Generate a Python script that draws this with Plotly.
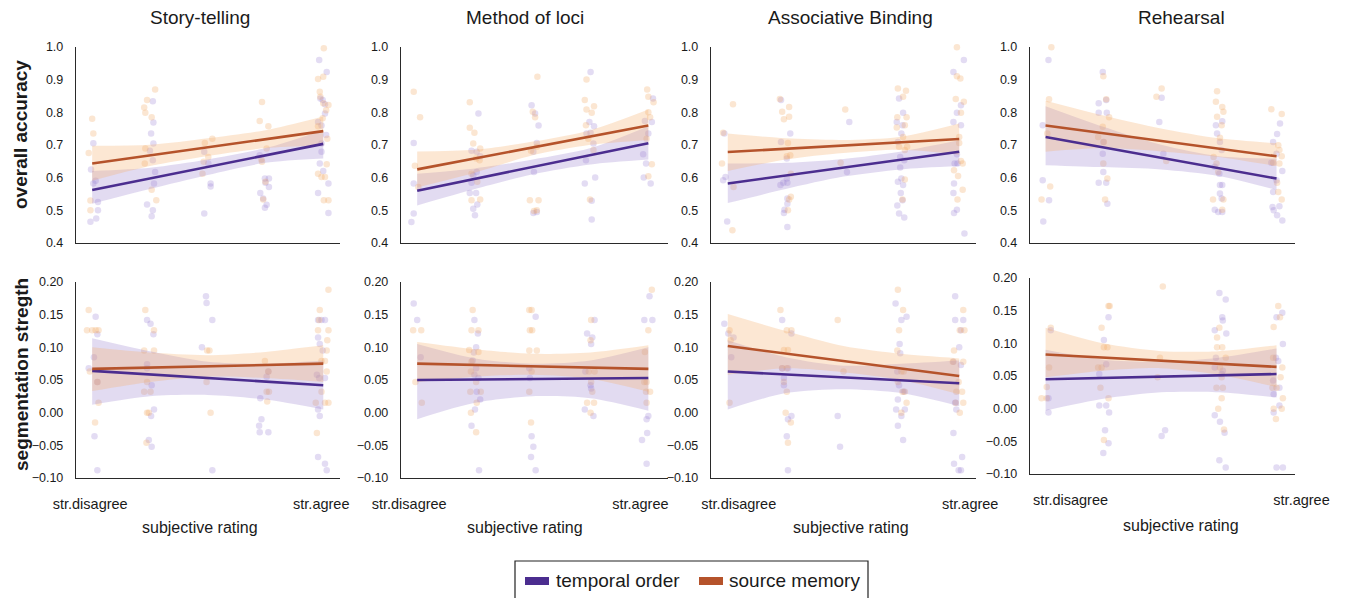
import plotly.graph_objects as go

W, H = 1345, 598
FONT = "Liberation Sans, Arial, Helvetica, sans-serif"
TEXT = "#1a1a1a"
AXC = "#2a2a2a"

TO_LINE = "#4b2d8f"
SM_LINE = "#b5532b"
TO_BAND = "rgba(150,125,205,0.28)"
SM_BAND = "rgba(245,175,110,0.30)"
TO_DOT = "rgba(150,125,210,0.27)"
SM_DOT = "rgba(240,165,95,0.28)"

methods = ["Story-telling", "Method of loci", "Associative Binding", "Rehearsal"]
measures = ["overall accuracy", "segmentation stregth"]
series_names = ["temporal order", "source memory"]
rating_ticks = [1, 5]
rating_labels = ["str.disagree", "str.agree"]
acc_ticks = [0.4, 0.5, 0.6, 0.7, 0.8, 0.9, 1.0]
seg_ticks = [-0.10, -0.05, 0.0, 0.05, 0.10, 0.15, 0.20]
fit_x = [1, 2, 3, 4, 5]
line_x = [1, 5]

# ---------------- Story-telling : overall accuracy ----------------
st_acc_to_x = [1.02, 0.98, 1.02, 1.06, 1.10, 1.10, 1.07, 0.97,
               2.05, 2.06, 2.02, 2.06, 2.00, 2.05, 2.09, 2.07, 1.95, 2.05, 2.03,
               2.94, 3.01, 3.05, 3.05, 2.94,
               3.90, 3.99, 4.06, 4.00, 3.91, 4.06, 3.96, 4.02, 3.99,
               4.93, 5.06, 4.95, 4.99, 5.03, 5.03, 4.91, 4.97, 5.05, 4.97, 4.97, 4.94, 5.00, 5.09, 4.91, 5.09]
st_acc_to_y = [0.705, 0.625, 0.582, 0.59, 0.525, 0.50, 0.475, 0.465,
               0.833, 0.768, 0.735, 0.704, 0.682, 0.653, 0.617, 0.582, 0.518, 0.50, 0.482,
               0.679, 0.643, 0.582, 0.573, 0.49,
               0.668, 0.597, 0.597, 0.584, 0.553, 0.571, 0.536, 0.517, 0.508,
               0.959, 0.923, 0.842, 0.837, 0.824, 0.796, 0.77, 0.759, 0.73, 0.704, 0.679, 0.643, 0.62, 0.582, 0.553, 0.492]
st_acc_sm_x = [1.00, 1.02, 0.94, 0.97, 0.97,
               2.09, 1.95, 1.90, 1.92, 2.03, 1.92, 1.91, 2.03, 2.11,
               3.08, 2.95, 3.01, 2.93, 2.91,
               3.94, 3.90, 4.05, 4.02, 3.93, 3.94, 4.00, 3.96,
               5.01, 4.91, 5.00, 4.94, 4.95, 5.00, 5.09, 5.05, 4.99, 4.91, 5.07, 5.06, 4.91, 4.97, 5.03, 5.01, 5.09]
st_acc_sm_y = [0.78, 0.735, 0.675, 0.53, 0.50,
               0.869, 0.837, 0.814, 0.798, 0.784, 0.689, 0.643, 0.563, 0.531,
               0.719, 0.706, 0.663, 0.648, 0.612,
               0.831, 0.773, 0.757, 0.689, 0.655, 0.648, 0.587, 0.533,
               0.995, 0.901, 0.908, 0.862, 0.847, 0.827, 0.822, 0.806, 0.781, 0.757, 0.719, 0.641, 0.612, 0.602, 0.602, 0.531, 0.531]
st_acc_to_fit = [0.562, 0.703]
st_acc_sm_fit = [0.643, 0.742]
st_acc_to_hi = [0.620, 0.630, 0.655, 0.690, 0.745]
st_acc_to_lo = [0.520, 0.565, 0.608, 0.645, 0.658]
st_acc_sm_hi = [0.697, 0.700, 0.720, 0.745, 0.787]
st_acc_sm_lo = [0.590, 0.635, 0.666, 0.690, 0.698]

# ---------------- Method of loci : overall accuracy ----------------
ml_acc_to_x = [0.94, 0.94, 0.94, 0.90,
               2.06, 1.94, 2.03, 2.09, 1.97, 2.03, 1.94, 1.91, 2.02, 2.04, 1.97, 2.00,
               2.98, 3.04, 3.10, 3.07, 3.01, 3.02, 3.01, 3.07,
               4.00, 3.98, 3.93, 4.00, 4.06, 4.05, 3.92, 3.90, 4.08, 4.02, 4.02,
               5.08, 4.94, 5.06, 5.00, 4.91, 4.96, 4.92, 5.04]
ml_acc_to_y = [0.706, 0.582, 0.49, 0.464,
               0.796, 0.682, 0.679, 0.665, 0.607, 0.617, 0.584, 0.553, 0.553, 0.518, 0.505, 0.485,
               0.821, 0.796, 0.759, 0.706, 0.679, 0.617, 0.492, 0.495,
               0.923, 0.77, 0.735, 0.737, 0.757, 0.704, 0.653, 0.582, 0.60, 0.529, 0.472,
               0.842, 0.773, 0.77, 0.735, 0.671, 0.643, 0.60, 0.582]
ml_acc_sm_x = [0.94, 1.05, 0.96, 1.02,
               1.91, 1.91, 1.99, 1.97, 2.09, 2.02, 2.08, 1.94, 2.04, 1.94, 2.09,
               3.08, 3.00, 3.04, 2.97, 3.07, 2.95, 3.10, 3.02, 3.07,
               3.93, 3.90, 3.93, 4.06, 4.02, 3.92, 3.96, 4.05, 3.99,
               4.98, 5.00, 5.09, 5.00, 5.03, 4.97, 5.00, 5.06]
ml_acc_sm_y = [0.862, 0.784, 0.636, 0.571,
               0.83, 0.752, 0.737, 0.704, 0.689, 0.658, 0.653, 0.612, 0.587, 0.531, 0.533,
               0.908, 0.801, 0.784, 0.682, 0.694, 0.531, 0.531, 0.498, 0.50,
               0.90, 0.837, 0.808, 0.818, 0.798, 0.76, 0.719, 0.684, 0.533,
               0.869, 0.847, 0.83, 0.80, 0.784, 0.719, 0.604, 0.641]
ml_acc_to_fit = [0.560, 0.705]
ml_acc_sm_fit = [0.625, 0.759]
ml_acc_to_hi = [0.612, 0.628, 0.655, 0.690, 0.757]
ml_acc_to_lo = [0.515, 0.565, 0.610, 0.640, 0.655]
ml_acc_sm_hi = [0.680, 0.685, 0.710, 0.745, 0.808]
ml_acc_sm_lo = [0.570, 0.615, 0.668, 0.700, 0.715]

# ---------------- Associative Binding : overall accuracy ----------------
ab_acc_to_x = [0.94, 0.96, 0.92, 0.99,
               1.92, 2.08, 1.92, 2.02, 1.91, 1.96, 2.03, 2.02, 2.03, 2.03, 1.98, 1.97, 2.03,
               3.10, 3.06,
               3.96, 4.03, 3.92, 4.02, 4.00, 3.94, 3.98, 3.98, 4.05, 4.00, 3.94, 4.03, 3.99, 4.02, 3.93, 3.96, 4.05,
               5.08, 4.90, 5.03, 4.96, 4.90, 5.03, 4.96, 4.92, 4.97, 4.91, 4.90, 4.96, 4.91, 5.09]
ab_acc_to_y = [0.735, 0.602, 0.592, 0.466,
               0.837, 0.735, 0.709, 0.658, 0.577, 0.584, 0.584, 0.597, 0.536, 0.52, 0.502, 0.492, 0.449,
               0.77, 0.617,
               0.842, 0.798, 0.77, 0.76, 0.735, 0.709, 0.663, 0.631, 0.653, 0.597, 0.587, 0.577, 0.553, 0.531, 0.515, 0.49, 0.478,
               0.959, 0.923, 0.821, 0.798, 0.77, 0.76, 0.671, 0.643, 0.643, 0.582, 0.553, 0.502, 0.492, 0.429]
ab_acc_sm_x = [0.92, 1.09, 0.90, 1.10, 1.08,
               1.90, 1.94, 2.06, 1.97, 2.06, 2.04, 2.02, 2.08, 2.09, 2.09, 2.06, 2.04,
               3.03, 2.95,
               3.94, 4.08, 4.03, 3.93, 4.09, 3.92, 4.06, 4.03, 3.96, 4.10, 4.06, 4.06, 4.02,
               4.96, 4.96, 5.02, 4.94, 5.08, 5.03, 5.00, 5.00, 5.03, 5.06, 4.91, 4.98, 5.06, 4.97]
ab_acc_sm_y = [0.737, 0.824, 0.643, 0.571, 0.439,
               0.84, 0.801, 0.816, 0.778, 0.786, 0.706, 0.665, 0.668, 0.612, 0.541, 0.533, 0.50,
               0.808, 0.645,
               0.872, 0.865, 0.847, 0.784, 0.784, 0.753, 0.76, 0.724, 0.694, 0.694, 0.684, 0.594, 0.533,
               0.998, 0.91, 0.903, 0.84, 0.832, 0.798, 0.724, 0.706, 0.651, 0.643, 0.622, 0.605, 0.563, 0.533]
ab_acc_to_fit = [0.582, 0.679]
ab_acc_sm_fit = [0.678, 0.718]
ab_acc_to_hi = [0.643, 0.645, 0.657, 0.680, 0.714]
ab_acc_to_lo = [0.522, 0.565, 0.603, 0.625, 0.635]
ab_acc_sm_hi = [0.735, 0.720, 0.715, 0.725, 0.765]
ab_acc_sm_lo = [0.620, 0.655, 0.675, 0.685, 0.670]

# ---------------- Rehearsal : overall accuracy ----------------
rh_acc_to_x = [1.05, 0.95, 0.95, 1.06, 0.96,
               1.99, 1.92, 2.05, 2.06, 1.92, 2.00, 1.99, 2.00, 1.92, 2.05, 2.07,
               3.01, 2.97, 3.04,
               3.95, 3.97, 4.02, 4.05, 4.06, 3.93, 4.01, 4.02, 4.06, 4.02, 4.05, 3.93, 3.99, 4.06,
               5.06, 5.01, 4.94, 5.00, 5.10, 4.91, 5.00, 4.94, 5.05, 4.93, 4.95, 5.01, 5.10]
rh_acc_to_y = [0.959, 0.76, 0.592, 0.531, 0.466,
               0.923, 0.827, 0.837, 0.798, 0.798, 0.709, 0.673, 0.617, 0.584, 0.584, 0.52,
               0.844, 0.77, 0.673,
               0.76, 0.735, 0.709, 0.684, 0.772, 0.633, 0.612, 0.577, 0.577, 0.551, 0.536, 0.502, 0.495, 0.495,
               0.765, 0.733, 0.709, 0.673, 0.62, 0.645, 0.592, 0.556, 0.512, 0.51, 0.50, 0.485, 0.469]
rh_acc_sm_x = [1.10, 1.06, 1.03, 1.08, 0.93,
               2.00, 2.05, 2.10, 1.99, 1.91, 2.01, 2.00, 2.07, 2.03,
               2.92, 3.01, 3.09,
               3.97, 3.95, 3.97, 4.06, 4.08, 4.05, 4.02, 3.91, 3.96, 3.99, 3.90, 4.08, 4.06,
               4.91, 5.09, 5.03, 5.05, 5.09, 5.05, 5.01, 5.03, 5.09, 4.94]
rh_acc_sm_y = [0.998, 0.839, 0.735, 0.573, 0.533,
               0.91, 0.839, 0.784, 0.755, 0.724, 0.709, 0.643, 0.597, 0.533,
               0.847, 0.872, 0.651,
               0.864, 0.832, 0.786, 0.816, 0.801, 0.76, 0.722, 0.663, 0.643, 0.617, 0.533, 0.533, 0.502,
               0.809, 0.794, 0.699, 0.684, 0.665, 0.643, 0.584, 0.556, 0.533, 0.645]
rh_acc_to_fit = [0.724, 0.597]
rh_acc_sm_fit = [0.759, 0.665]
rh_acc_to_hi = [0.818, 0.755, 0.700, 0.665, 0.658]
rh_acc_to_lo = [0.638, 0.632, 0.625, 0.605, 0.562]
rh_acc_sm_hi = [0.835, 0.790, 0.750, 0.720, 0.705]
rh_acc_sm_lo = [0.679, 0.690, 0.680, 0.663, 0.635]

# ---------------- Story-telling : segmentation strength ----------------
st_seg_to_x = [1.06, 1.09, 1.03, 0.94, 1.09, 1.04, 1.09,
               1.95, 2.01, 2.06, 1.95, 1.95, 2.03, 2.07, 2.02, 1.98, 2.03,
               2.97, 2.98, 3.08, 2.90, 3.08,
               4.02, 4.05, 3.91, 3.93, 3.89, 3.90, 4.05,
               4.91, 4.97, 5.03, 4.91, 4.94, 4.99, 4.89, 4.93, 5.03, 4.91, 4.94, 4.91, 5.03, 5.06]
st_seg_to_y = [0.147, 0.12, 0.085, 0.068, 0.047, -0.036, -0.088,
               0.142, 0.136, 0.12, 0.074, 0.068, 0.042, 0.005, -0.005, -0.042, -0.052,
               0.178, 0.168, 0.142, 0.10, -0.088,
               0.055, 0.063, 0.022, -0.01, -0.02, -0.03, -0.03,
               0.142, 0.142, 0.142, 0.115, 0.105, 0.095, 0.058, 0.053, 0.053, 0.005, -0.005, -0.068, -0.078, -0.088]
st_seg_sm_x = [0.94, 0.91, 1.00, 1.06, 1.11, 0.96, 1.09, 1.11, 1.05,
               1.92, 2.07, 1.90, 2.07, 1.95, 1.90, 2.01, 1.95, 1.98, 1.94,
               2.99, 3.03, 2.98, 3.05,
               3.99, 4.03, 4.02, 4.06, 4.05,
               5.09, 4.94, 4.93, 4.91, 5.09, 5.07, 5.06, 4.97, 5.03, 5.06, 4.97, 5.03, 5.09, 4.87, 4.89]
st_seg_sm_y = [0.157, 0.126, 0.126, 0.126, 0.126, 0.063, 0.047, 0.015, -0.015,
               0.157, 0.126, 0.095, 0.095, 0.047, 0.032, 0.032, 0.0, 0.0, -0.046,
               0.095, 0.095, 0.047, 0.0,
               0.079, 0.017, 0.032, 0.032, 0.063,
               0.188, 0.157, 0.142, 0.126, 0.126, 0.111, 0.095, 0.079, 0.079, 0.063, 0.032, 0.015, 0.015, 0.015, -0.031]
st_seg_to_fit = [0.064, 0.042]
st_seg_sm_fit = [0.067, 0.075]
st_seg_to_hi = [0.114, 0.094, 0.078, 0.075, 0.080]
st_seg_to_lo = [0.012, 0.025, 0.027, 0.020, 0.005]
st_seg_sm_hi = [0.100, 0.092, 0.088, 0.093, 0.103]
st_seg_sm_lo = [0.033, 0.047, 0.055, 0.053, 0.047]

# ---------------- Method of loci : segmentation strength ----------------
ml_seg_to_x = [0.94, 1.00, 1.06,
               1.99, 2.05, 2.02, 1.98, 1.96, 2.02, 1.99, 2.06, 2.03, 2.09, 2.00, 1.94, 2.07,
               3.05, 2.94, 2.95, 2.98, 3.01, 2.97, 3.05,
               3.94, 4.03, 4.01, 4.07, 3.91, 4.00, 4.01, 3.90, 4.05,
               5.02, 4.93, 5.07, 5.00, 4.97, 4.98, 4.89, 4.97]
ml_seg_to_y = [0.167, 0.142, 0.085,
               0.142, 0.121, 0.10, 0.092, 0.08, 0.068, 0.058, 0.053, 0.032, 0.02, 0.005, -0.02, -0.088,
               0.147, 0.068, 0.053, -0.036, -0.052, -0.068, -0.088,
               0.121, 0.115, 0.105, 0.142, 0.063, 0.042, 0.037, 0.005, -0.005,
               0.178, 0.142, 0.142, -0.005, -0.01, -0.031, -0.042, -0.078]
ml_seg_sm_x = [0.93, 1.07, 0.97, 1.08,
               1.96, 1.94, 2.06, 1.90, 2.06, 1.94, 1.93, 2.02, 1.92, 2.10, 2.03, 1.93, 2.02,
               2.94, 2.98, 2.95, 2.99, 2.94, 3.07, 2.98, 2.94, 2.97,
               4.01, 4.00, 3.97, 4.07, 4.01, 4.03, 3.94, 4.06, 4.00,
               5.06, 5.00, 4.94, 4.93, 4.97, 4.96, 5.03, 4.97]
ml_seg_sm_y = [0.126, 0.126, 0.047, 0.015,
               0.157, 0.126, 0.126, 0.096, 0.093, 0.078, 0.063, 0.047, 0.032, 0.032, 0.015, 0.0, -0.03,
               0.157, 0.157, 0.126, 0.126, 0.095, 0.095, 0.063, 0.032, -0.015,
               0.142, 0.111, 0.063, 0.063, 0.047, 0.032, 0.015, 0.015, 0.0,
               0.188, 0.126, 0.093, 0.047, 0.047, 0.032, 0.032, 0.015]
ml_seg_to_fit = [0.050, 0.053]
ml_seg_sm_fit = [0.075, 0.067]
ml_seg_to_hi = [0.105, 0.083, 0.075, 0.080, 0.100]
ml_seg_to_lo = [-0.010, 0.015, 0.025, 0.022, 0.003]
ml_seg_sm_hi = [0.108, 0.097, 0.090, 0.092, 0.103]
ml_seg_sm_lo = [0.047, 0.055, 0.058, 0.052, 0.032]

# ---------------- Associative Binding : segmentation strength ----------------
ab_seg_to_x = [0.94, 1.01, 1.10, 1.06,
               1.94, 2.10, 1.94, 2.04, 1.97, 1.97, 2.04, 2.10, 2.02, 2.04,
               2.90, 2.94,
               3.89, 4.00, 3.90, 4.09, 4.00, 3.97, 3.98, 3.93, 3.96, 4.04, 3.94, 3.91, 4.06, 4.00, 3.94, 4.03,
               4.93, 4.93, 5.07, 5.03, 5.00, 4.90, 5.03, 4.93, 4.95, 4.90, 5.05, 4.91, 4.99, 5.03]
ab_seg_to_y = [0.136, 0.121, 0.115, 0.085,
               0.142, 0.121, 0.068, 0.068, 0.053, 0.042, -0.01, -0.005, -0.036, -0.088,
               -0.005, -0.052,
               0.242, 0.227, 0.167, 0.147, 0.142, 0.105, 0.091, 0.063, 0.042, 0.032, 0.02, 0.005, 0.005, -0.005, -0.02, -0.042,
               0.178, 0.142, 0.142, 0.126, 0.10, 0.078, 0.073, 0.015, 0.005, -0.031, -0.068, -0.078, -0.088, -0.088]
ab_seg_sm_x = [1.03, 1.05, 1.03,
               1.91, 2.02, 2.10, 1.97, 2.04, 1.94, 2.02, 1.97, 2.02, 2.00, 2.09, 2.04,
               2.90, 3.00,
               3.98, 3.94, 4.03, 3.96, 3.93, 4.00, 4.04, 3.94, 4.02, 4.06, 4.09, 4.00,
               5.03, 5.07, 5.01, 5.09, 4.91, 5.07, 4.89, 4.99, 4.95, 5.05, 4.94, 5.07, 5.01]
ab_seg_sm_y = [0.126, 0.111, 0.015,
               0.157, 0.126, 0.126, 0.096, 0.096, 0.068, 0.068, 0.047, 0.032, 0.0, -0.015, -0.046,
               0.142, 0.063,
               0.23, 0.188, 0.157, 0.126, 0.095, 0.063, 0.063, 0.047, 0.032, 0.032, 0.015, 0.0,
               0.215, 0.157, 0.126, 0.126, 0.095, 0.078, 0.078, 0.047, 0.032, 0.032, 0.015, 0.015, 0.0]
ab_seg_to_fit = [0.063, 0.045]
ab_seg_sm_fit = [0.102, 0.056]
ab_seg_to_hi = [0.111, 0.085, 0.072, 0.075, 0.080]
ab_seg_to_lo = [0.005, 0.030, 0.036, 0.030, 0.010]
ab_seg_sm_hi = [0.151, 0.125, 0.102, 0.090, 0.083]
ab_seg_sm_lo = [0.058, 0.068, 0.062, 0.050, 0.028]

# ---------------- Rehearsal : segmentation strength ----------------
rh_seg_to_x = [1.09, 1.05, 1.05,
               2.01, 2.09, 2.05, 1.93, 1.93, 2.05, 2.10, 2.03, 2.09, 2.00,
               3.07, 3.01,
               4.01, 4.12, 4.06, 4.07, 3.93, 4.13, 3.95, 3.93, 4.07, 4.05, 3.93, 4.02, 4.10, 4.01, 4.12,
               5.10, 5.00, 5.11, 4.99, 5.03, 4.94, 5.05, 4.95, 5.05, 4.95, 5.00, 5.11]
rh_seg_to_y = [0.12, -0.006, 0.016,
               0.105, 0.14, 0.068, 0.053, 0.005, 0.005, -0.006, -0.033, -0.053, -0.068,
               -0.033, -0.042,
               0.177, 0.167, 0.14, 0.135, 0.12, 0.115, 0.078, 0.063, 0.058, 0.053, -0.01, -0.02, -0.037, -0.079, -0.09,
               0.147, 0.14, 0.099, 0.078, 0.073, 0.043, 0.032, 0.022, 0.005, -0.006, -0.09, -0.09]
rh_seg_sm_x = [0.93, 1.02, 1.09, 1.06, 1.02,
               1.97, 2.07, 2.01, 1.91, 1.97, 1.95, 2.09, 2.01, 2.09, 2.11,
               3.03, 2.98, 2.94,
               4.01, 3.97, 3.97, 4.06, 4.12, 4.05, 3.96, 4.07, 4.05, 3.99, 4.09, 4.02,
               5.03, 4.95, 5.06, 4.94, 5.10, 5.07, 4.93, 5.11, 5.00, 5.09, 4.95, 4.99]
rh_seg_sm_y = [0.016, 0.016, 0.124, 0.063, 0.033,
               0.124, 0.094, 0.094, 0.063, 0.063, 0.032, 0.016, -0.048, 0.157, 0.157,
               0.187, 0.078, 0.048,
               0.124, 0.109, 0.094, 0.094, 0.078, 0.048, 0.032, 0.032, 0.016, 0.0, -0.032, 0.063,
               0.157, 0.125, 0.14, 0.078, 0.063, 0.048, 0.032, 0.016, 0.032, 0.0, 0.0, -0.016]
rh_seg_to_fit = [0.045, 0.053]
rh_seg_sm_fit = [0.083, 0.064]
rh_seg_to_hi = [0.090, 0.075, 0.072, 0.078, 0.092]
rh_seg_to_lo = [-0.003, 0.015, 0.025, 0.025, 0.017]
rh_seg_sm_hi = [0.124, 0.100, 0.088, 0.088, 0.097]
rh_seg_sm_lo = [0.048, 0.058, 0.062, 0.052, 0.033]

PANELS = [
    (st_acc_to_x, st_acc_to_y, st_acc_sm_x, st_acc_sm_y, st_acc_to_fit, st_acc_sm_fit, st_acc_to_hi, st_acc_to_lo, st_acc_sm_hi, st_acc_sm_lo),
    (ml_acc_to_x, ml_acc_to_y, ml_acc_sm_x, ml_acc_sm_y, ml_acc_to_fit, ml_acc_sm_fit, ml_acc_to_hi, ml_acc_to_lo, ml_acc_sm_hi, ml_acc_sm_lo),
    (ab_acc_to_x, ab_acc_to_y, ab_acc_sm_x, ab_acc_sm_y, ab_acc_to_fit, ab_acc_sm_fit, ab_acc_to_hi, ab_acc_to_lo, ab_acc_sm_hi, ab_acc_sm_lo),
    (rh_acc_to_x, rh_acc_to_y, rh_acc_sm_x, rh_acc_sm_y, rh_acc_to_fit, rh_acc_sm_fit, rh_acc_to_hi, rh_acc_to_lo, rh_acc_sm_hi, rh_acc_sm_lo),
    (st_seg_to_x, st_seg_to_y, st_seg_sm_x, st_seg_sm_y, st_seg_to_fit, st_seg_sm_fit, st_seg_to_hi, st_seg_to_lo, st_seg_sm_hi, st_seg_sm_lo),
    (ml_seg_to_x, ml_seg_to_y, ml_seg_sm_x, ml_seg_sm_y, ml_seg_to_fit, ml_seg_sm_fit, ml_seg_to_hi, ml_seg_to_lo, ml_seg_sm_hi, ml_seg_sm_lo),
    (ab_seg_to_x, ab_seg_to_y, ab_seg_sm_x, ab_seg_sm_y, ab_seg_to_fit, ab_seg_sm_fit, ab_seg_to_hi, ab_seg_to_lo, ab_seg_sm_hi, ab_seg_sm_lo),
    (rh_seg_to_x, rh_seg_to_y, rh_seg_sm_x, rh_seg_sm_y, rh_seg_to_fit, rh_seg_sm_fit, rh_seg_to_hi, rh_seg_to_lo, rh_seg_sm_hi, rh_seg_sm_lo),
]

# ---------------- geometry (pixels) ----------------
col_px = [(76, 340), (401, 668), (711, 976), (1030, 1295)]
x_ranges = [[0.72, 5.29], [0.72, 5.34], [0.71, 5.29], [0.73, 5.32]]
row_px = [[(46.7, 243)] * 4, [(282, 478), (282, 478), (282, 478), (278, 474)]]
label_shift = [-2, -8, 11, 25]
title_cx = [200, 525, 851, 1181]


def px_x(p):
    return p / W


def px_y(p):
    return 1 - p / H


fig = go.Figure()
layout_axes = {}

for i, (tox, toy, smx, smy, tofit, smfit, tohi, tolo, smhi, smlo) in enumerate(PANELS):
    r, c = divmod(i, 4)
    n = i + 1
    xa = "x" if n == 1 else f"x{n}"
    ya = "y" if n == 1 else f"y{n}"
    common = dict(xaxis=xa, yaxis=ya, showlegend=False, hoverinfo="skip")

    fig.add_trace(go.Scatter(x=tox, y=toy, mode="markers", cliponaxis=False,
                             marker=dict(size=6.5, color=TO_DOT, line=dict(width=0)), **common))
    fig.add_trace(go.Scatter(x=smx, y=smy, mode="markers", cliponaxis=False,
                             marker=dict(size=6.5, color=SM_DOT, line=dict(width=0)), **common))
    # confidence bands
    for lo, hi, col in ((tolo, tohi, TO_BAND), (smlo, smhi, SM_BAND)):
        fig.add_trace(go.Scatter(x=fit_x, y=lo, mode="lines",
                                 line=dict(width=0, shape="spline", smoothing=0.8), **common))
        fig.add_trace(go.Scatter(x=fit_x, y=hi, mode="lines", fill="tonexty", fillcolor=col,
                                 line=dict(width=0, shape="spline", smoothing=0.8), **common))
    # regression lines
    fig.add_trace(go.Scatter(x=line_x, y=tofit, mode="lines", line=dict(color=TO_LINE, width=2.6), **common))
    fig.add_trace(go.Scatter(x=line_x, y=smfit, mode="lines", line=dict(color=SM_LINE, width=2.6), **common))

    x0, x1 = col_px[c]
    yt, yb = row_px[r][c]
    xkey = "xaxis" if n == 1 else f"xaxis{n}"
    ykey = "yaxis" if n == 1 else f"yaxis{n}"
    layout_axes[xkey] = dict(
        domain=[px_x(x0), px_x(x1)], range=x_ranges[c], anchor=ya, automargin=False,
        showline=True, linecolor=AXC, linewidth=1.4, showgrid=False, zeroline=False,
        tickmode="array", tickvals=rating_ticks, ticktext=rating_labels,
        showticklabels=(r == 1), ticks="", ticklabelstandoff=12, ticklabelshift=label_shift[c],
        tickfont=dict(family=FONT, size=14.5, color=TEXT), fixedrange=True,
    )
    layout_axes[ykey] = dict(
        domain=[px_y(yb), px_y(yt)], range=[0.4, 1.0] if r == 0 else [-0.10, 0.20], anchor=xa,
        automargin=False,
        showline=True, linecolor=AXC, linewidth=1.4, showgrid=False, zeroline=False,
        tickmode="array", tickvals=acc_ticks if r == 0 else seg_ticks,
        tickformat=".1f" if r == 0 else ".2f",
        ticks="", ticklabelstandoff=9,
        tickfont=dict(family=FONT, size=12.5, color=TEXT), fixedrange=True,
    )

annotations = []
for c in range(4):
    annotations.append(dict(text=methods[c], x=px_x(title_cx[c]), y=px_y(18), xref="paper", yref="paper",
                            showarrow=False, xanchor="center", yanchor="middle",
                            font=dict(family=FONT, size=19, color=TEXT)))
    annotations.append(dict(text="subjective rating", x=px_x(title_cx[c]), y=px_y(527 if c < 3 else 525),
                            xref="paper", yref="paper", showarrow=False, xanchor="center", yanchor="middle",
                            font=dict(family=FONT, size=16, color=TEXT)))
for text, cy in ((measures[0], 135), (measures[1], 375)):
    annotations.append(dict(text=f"<b>{text}</b>", x=px_x(21), y=px_y(cy), xref="paper", yref="paper",
                            showarrow=False, textangle=-90, xanchor="center", yanchor="middle",
                            font=dict(family=FONT, size=19, color=TEXT)))

# legend (drawn as a boxed key at the bottom)
shapes = [
    dict(type="rect", xref="paper", yref="paper", x0=px_x(515), x1=px_x(868), y0=px_y(612), y1=px_y(561),
         line=dict(color="#222222", width=1.2), fillcolor="rgba(0,0,0,0)"),
    dict(type="rect", xref="paper", yref="paper", x0=px_x(525), x1=px_x(549), y0=px_y(585), y1=px_y(577),
         line=dict(width=0), fillcolor=TO_LINE),
    dict(type="rect", xref="paper", yref="paper", x0=px_x(699), x1=px_x(723), y0=px_y(585), y1=px_y(577),
         line=dict(width=0), fillcolor=SM_LINE),
]
annotations.append(dict(text=series_names[0], x=px_x(554), y=px_y(580), xref="paper", yref="paper",
                        showarrow=False, xanchor="left", yanchor="middle",
                        font=dict(family=FONT, size=19, color=TEXT)))
annotations.append(dict(text=series_names[1], x=px_x(727), y=px_y(580), xref="paper", yref="paper",
                        showarrow=False, xanchor="left", yanchor="middle",
                        font=dict(family=FONT, size=19, color=TEXT)))

fig.update_layout(
    width=W, height=H, margin=dict(l=0, r=0, t=0, b=0, pad=0, autoexpand=False),
    paper_bgcolor="white", plot_bgcolor="white",
    font=dict(family=FONT, color=TEXT),
    showlegend=False, annotations=annotations, shapes=shapes,
    **layout_axes,
)

fig.write_html("out.html", config={"displayModeBar": False},
               post_script="document.body.style.margin='0px';document.body.style.overflow='hidden';")
